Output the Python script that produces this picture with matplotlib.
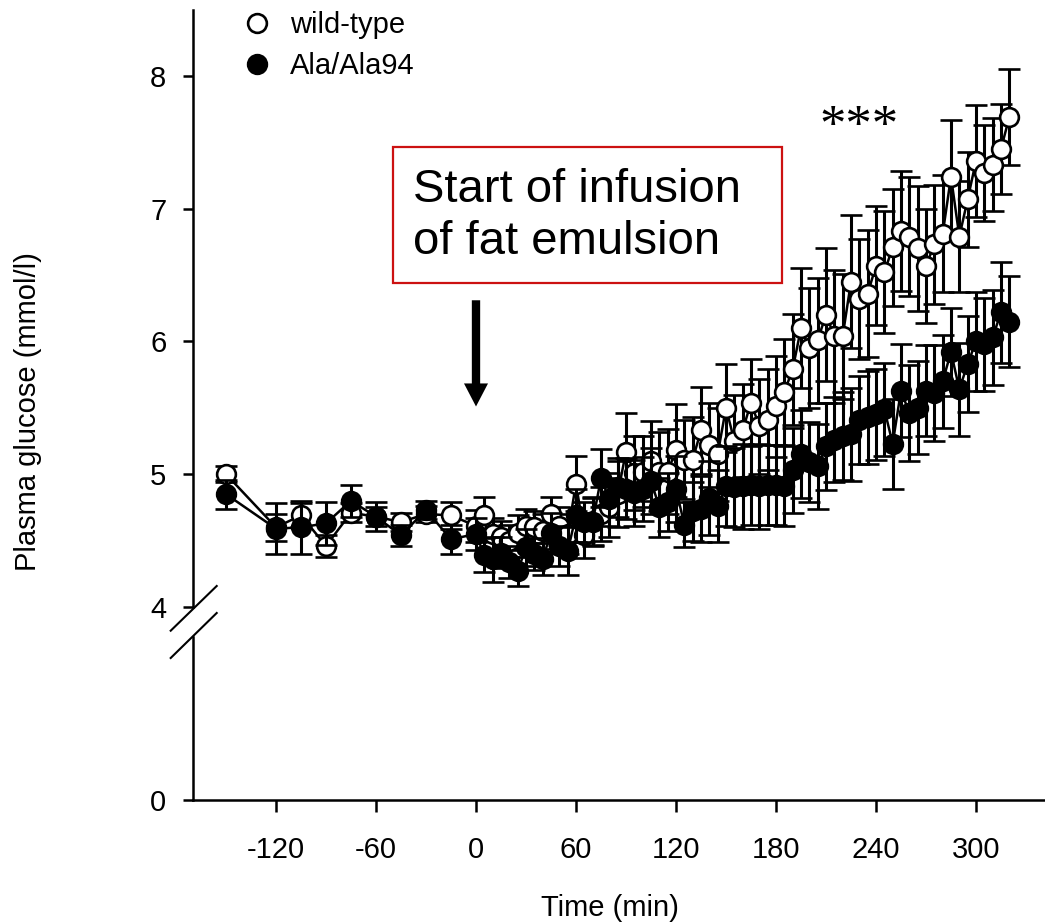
import matplotlib
matplotlib.use('Agg')
import matplotlib.pyplot as plt
from matplotlib.lines import Line2D
from matplotlib.patches import Rectangle

plt.rcParams['font.family'] = ['Liberation Sans', 'DejaVu Sans']
plt.rcParams['axes.unicode_minus'] = False

# time points (min)
time = [-150, -120, -105, -90, -75, -60, -45, -30, -15,
        0, 5, 10, 15, 20, 25, 30, 35, 40, 45, 50, 55, 60, 65, 70, 75, 80,
        85, 90, 95, 100, 105, 110, 115, 120, 125, 130, 135, 140, 145, 150,
        155, 160, 165, 170, 175, 180, 185, 190, 195, 200, 205, 210, 215, 220,
        225, 230, 235, 240, 245, 250, 255, 260, 265, 270, 275, 280, 285, 290,
        295, 300, 305, 310, 315, 320]

# wild-type, mean and SEM (mmol/l)
wt = [5.00, 4.60, 4.69, 4.46, 4.71, 4.68, 4.64, 4.70, 4.69,
      4.61, 4.69, 4.55, 4.53, 4.50, 4.56, 4.61, 4.60, 4.57, 4.70, 4.61, 4.55,
      4.93, 4.54, 4.65, 4.70, 4.75, 4.85, 5.17, 5.01, 5.02, 5.10, 5.02, 5.02,
      5.18, 5.11, 5.11, 5.33, 5.22, 5.15, 5.50, 5.25, 5.33, 5.54, 5.36, 5.41,
      5.51, 5.62, 5.79, 6.10, 5.95, 6.01, 6.20, 6.04, 6.04, 6.45, 6.32, 6.36,
      6.57, 6.52, 6.71, 6.83, 6.79, 6.70, 6.57, 6.73, 6.81, 7.24, 6.79, 7.07,
      7.36, 7.27, 7.33, 7.45, 7.69]
wt_err = [0.06, 0.10, 0.09, 0.08, 0.07, 0.07, 0.07, 0.06, 0.10,
          0.12, 0.14, 0.12, 0.12, 0.12, 0.13, 0.13, 0.12, 0.13, 0.13, 0.14, 0.15,
          0.21, 0.17, 0.18, 0.20, 0.22, 0.25, 0.29, 0.28, 0.27, 0.30, 0.30, 0.32,
          0.35, 0.30, 0.32, 0.33, 0.32, 0.35, 0.33, 0.35, 0.35, 0.33, 0.36, 0.38,
          0.38, 0.40, 0.42, 0.45, 0.45, 0.47, 0.50, 0.50, 0.47, 0.50, 0.45, 0.48,
          0.45, 0.46, 0.44, 0.45, 0.45, 0.47, 0.43, 0.45, 0.44, 0.43, 0.42, 0.36,
          0.42, 0.36, 0.35, 0.34, 0.36]

# Ala/Ala94, mean and SEM (mmol/l)
ala = [4.85, 4.59, 4.60, 4.63, 4.80, 4.68, 4.54, 4.73, 4.51,
       4.55, 4.39, 4.36, 4.41, 4.34, 4.27, 4.45, 4.40, 4.36, 4.56, 4.46, 4.42,
       4.69, 4.64, 4.64, 4.97, 4.81, 4.90, 4.89, 4.86, 4.89, 4.95, 4.75, 4.79,
       4.89, 4.62, 4.72, 4.74, 4.82, 4.76, 4.91, 4.90, 4.91, 4.92, 4.91, 4.92,
       4.92, 4.91, 5.03, 5.15, 5.09, 5.06, 5.21, 5.26, 5.29, 5.30, 5.41, 5.43,
       5.45, 5.49, 5.23, 5.63, 5.46, 5.50, 5.63, 5.61, 5.70, 5.92, 5.64, 5.83,
       6.00, 5.98, 6.03, 6.22, 6.15]
ala_err = [0.11, 0.19, 0.20, 0.16, 0.12, 0.11, 0.08, 0.07, 0.11,
           0.12, 0.13, 0.17, 0.12, 0.12, 0.11, 0.14, 0.12, 0.12, 0.15, 0.15, 0.18,
           0.20, 0.15, 0.18, 0.22, 0.20, 0.22, 0.23, 0.25, 0.24, 0.25, 0.22, 0.22,
           0.25, 0.17, 0.22, 0.25, 0.28, 0.27, 0.30, 0.30, 0.32, 0.30, 0.32, 0.30,
           0.30, 0.30, 0.32, 0.33, 0.30, 0.32, 0.33, 0.32, 0.33, 0.35, 0.33, 0.35,
           0.34, 0.35, 0.34, 0.35, 0.36, 0.35, 0.34, 0.36, 0.35, 0.33, 0.35, 0.36,
           0.37, 0.35, 0.36, 0.38, 0.34]

xticks = [-120, -60, 0, 60, 120, 180, 240, 300]

W, H = 1045, 923
fig = plt.figure(figsize=(W / 100, H / 100), dpi=100)

# broken y axis: lower part holds 0, upper part 4..8.5
ax_lo = fig.add_axes([193 / W, 1 - 800 / H, (W - 193) / W, (800 - 637) / H])
ax = fig.add_axes([193 / W, 1 - 607 / H, (W - 193) / W, (607 - 10) / H])

xlim = (-169.8, 341.4)
for a in (ax, ax_lo):
    a.set_xlim(*xlim)
    a.spines['top'].set_visible(False)
    a.spines['right'].set_visible(False)
    a.spines['left'].set_linewidth(1.8)
    a.spines['bottom'].set_linewidth(1.8)
    a.patch.set_visible(False)

ax.spines['bottom'].set_visible(False)
ax.set_ylim(4.0075, 8.496)
ax.set_yticks([4, 5, 6, 7, 8])
ax.set_xticks([])
ax.tick_params(axis='y', length=7.2, width=1.8, pad=12, labelsize=21)

ax_lo.set_ylim(0, 1.22)
ax_lo.set_yticks([0])
ax_lo.set_xticks(xticks)
ax_lo.tick_params(axis='y', length=7.2, width=1.8, pad=12, labelsize=21)
ax_lo.tick_params(axis='x', length=8.6, width=1.8, pad=17, labelsize=21)

style = dict(fmt='-o', color='black', ms=13.5, mew=1.9, elinewidth=2.2,
             capsize=8, capthick=2.2, lw=1.8, clip_on=False)
ax.errorbar(time, wt, yerr=wt_err, mfc='white', mec='black', zorder=3, **style)
ax.errorbar(time, ala, yerr=ala_err, mfc='black', mec='black', zorder=4, **style)

# break marks on the y axis
for y0, y1 in [(630.7, 586), (658, 613)]:
    fig.add_artist(Line2D([170.7 / W, 216.7 / W], [1 - y0 / H, 1 - y1 / H],
                          color='black', lw=1.5))

# legend
handles = [Line2D([], [], ls='none', marker='o', ms=13.5, mfc='white', mec='black', mew=1.9),
           Line2D([], [], ls='none', marker='o', ms=13.5, mfc='black', mec='black', mew=1.9)]
fig.legend(handles, ['wild-type', 'Ala/Ala94'], loc='upper left',
           bbox_to_anchor=(242 / W, 1 - 11 / H), frameon=False, fontsize=21,
           handlelength=1.0, handletextpad=0.65, labelspacing=0.45,
           borderaxespad=0, borderpad=0)

# annotation box and arrow
fig.add_artist(Rectangle((392.7 / W, 1 - 282.7 / H), (781.7 - 392.7) / W,
                         (282.7 - 146.7) / H, fill=False, edgecolor='#cc1111', lw=1.6))
fig.text(413 / W, 1 - 216 / H, 'Start of infusion\nof fat emulsion',
         fontsize=34, va='center', ha='left', linespacing=1.25)
ax.annotate('', xy=(0, 5.51), xytext=(0, 6.31),
            arrowprops=dict(arrowstyle='simple,head_width=1.73,head_length=1.66,tail_width=0.6',
                            mutation_scale=10, fc='black', ec='black', lw=0,
                            shrinkA=0, shrinkB=0))

ax.text(230, 7.61, '***', fontsize=38, ha='center', va='center',
        family=['Liberation Serif', 'DejaVu Serif'])

fig.text(610 / W, 1 - 908 / H, 'Time (min)', fontsize=21, ha='center', va='center')
fig.text(28 / W, 1 - 412 / H, 'Plasma glucose (mmol/l)', fontsize=21,
         ha='center', va='center', rotation=90)

fig.savefig('out.png', dpi=100)
